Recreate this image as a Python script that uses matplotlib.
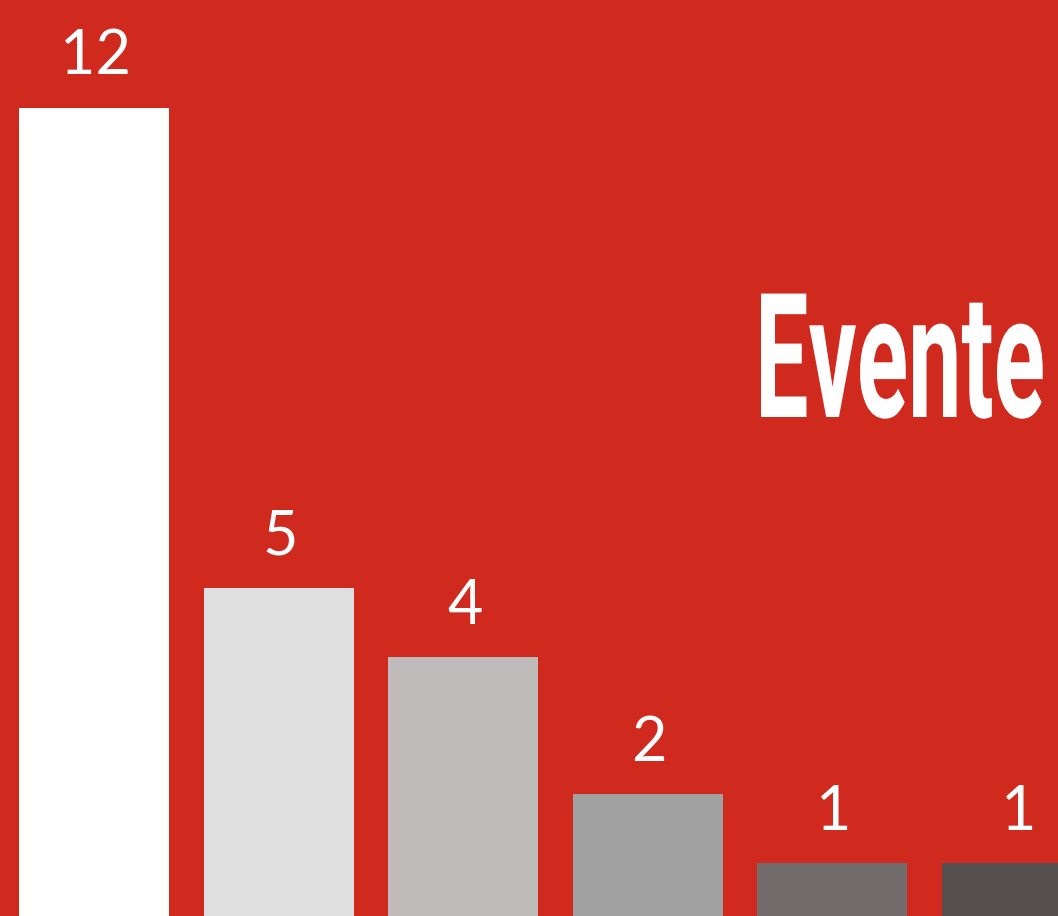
import matplotlib
matplotlib.use("Agg")
import matplotlib.pyplot as plt
from matplotlib.patheffects import AbstractPathEffect
from matplotlib.transforms import Affine2D

categories = ["A", "B", "C", "D", "E", "F"]
values = [12, 5, 4, 2, 1, 1]
bar_colors = ["#FFFFFF", "#E0E0E0", "#BFBBBA", "#A1A1A1", "#716C6B", "#55504F"]
title_text = "Evente"

BG = "#D0291E"
W, H = 1058, 916


class HScale(AbstractPathEffect):
    def __init__(self, sx, x0):
        super().__init__()
        self.sx = sx
        self.x0 = x0

    def draw_path(self, renderer, gc, tpath, affine, rgbFace=None):
        t = affine + Affine2D().translate(-self.x0, 0).scale(self.sx, 1).translate(self.x0, 0)
        renderer.draw_path(gc, tpath, t, rgbFace)


fig = plt.figure(figsize=(W / 100, H / 100), dpi=100)
fig.patch.set_facecolor(BG)
ax = fig.add_axes([0, 0, 1, 1])
ax.set_facecolor(BG)

xs = list(range(len(categories)))
ax.bar(xs, values, width=0.8126, color=bar_colors, linewidth=0)
ax.set_xlim(-0.509, 5.222)
ax.set_ylim(0.227, 13.57)
ax.axis("off")

for x, v in zip(xs, values):
    ax.annotate(str(v), (x, v), xytext=(1, 24), textcoords="offset points",
                ha="center", va="baseline", color="white", fontsize=44,
                family="Lato")

t = fig.text(755 / W, (H - 417) / H, title_text, ha="left", va="baseline",
             color="white", fontsize=125, fontweight="bold", family="Roboto")
fig.canvas.draw()
bb = t.get_window_extent()
sx = 290 / bb.width
t.set_path_effects([HScale(sx, bb.x0)])

fig.savefig("out.png", dpi=100, facecolor=BG)
